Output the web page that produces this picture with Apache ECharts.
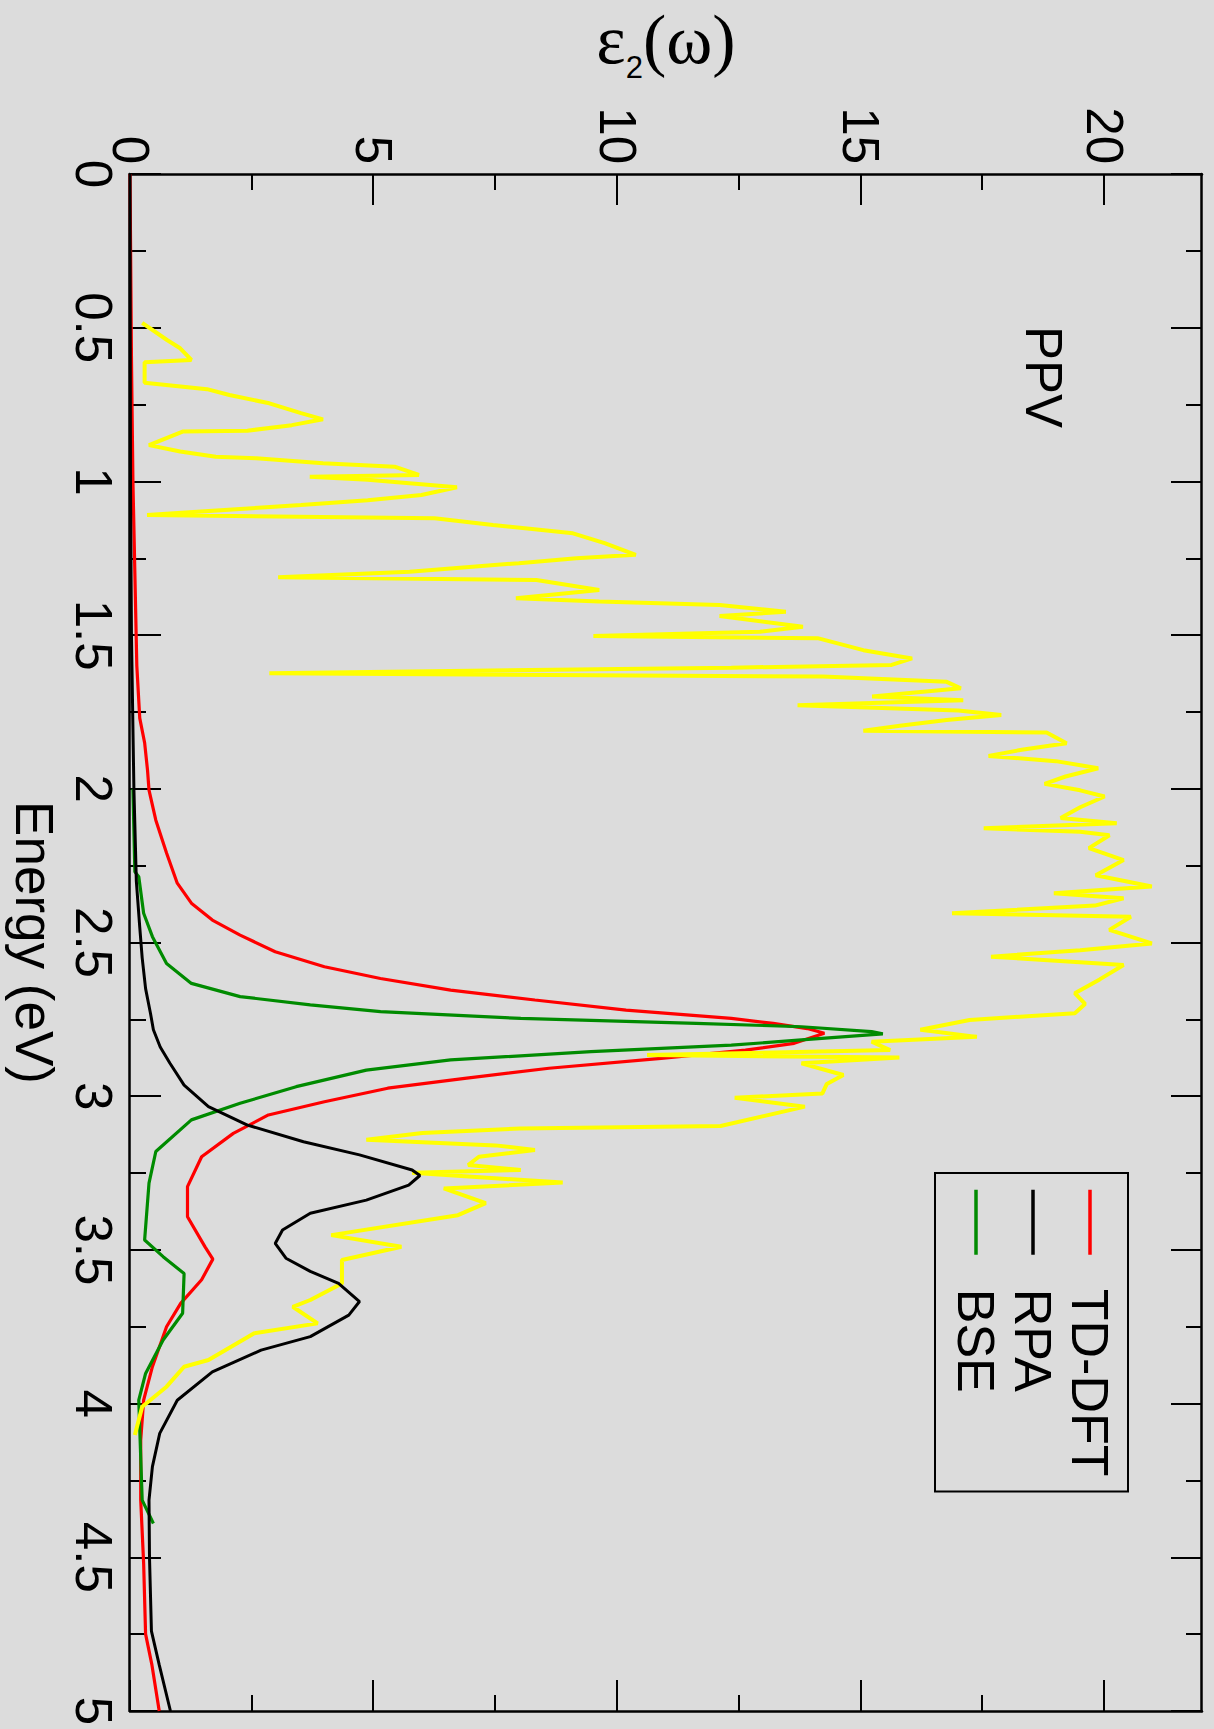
<!DOCTYPE html>
<html>
<head>
<meta charset="utf-8">
<title>PPV dielectric function</title>
<script src="https://cdn.jsdelivr.net/npm/echarts@6/dist/echarts.min.js"></script>
<style>
  html, body { margin: 0; padding: 0; width: 1214px; height: 1729px; background: #dcdcdc; overflow: hidden; }
  /* The plot is laid out landscape and turned a quarter turn clockwise onto the page */
  #plot {
    position: absolute; left: 0; top: 0;
    width: 1729px; height: 1214px;
    transform-origin: 0 0;
    transform: translate(1214px, 0) rotate(90deg);
  }
</style>
</head>
<body>
<div id="plot"></div>
<script>
// Imaginary part of the dielectric function, energies in eV
const tdE   = [0, 0.6, 1.0, 1.3, 1.6, 1.77, 1.85, 1.94, 2.004, 2.102, 2.209, 2.307, 2.372, 2.427, 2.476, 2.530, 2.579, 2.617, 2.655, 2.687, 2.720, 2.747, 2.763, 2.780, 2.795, 2.828, 2.850, 2.877, 2.909, 2.942, 2.974, 3.018, 3.061, 3.121, 3.197, 3.294, 3.392, 3.490, 3.530, 3.597, 3.674, 3.750, 3.880, 3.989, 4.119, 4.314, 4.52, 4.75, 4.85, 4.95, 5.0];
const tdEps = [0, 0.03, 0.06, 0.10, 0.14, 0.20, 0.30, 0.36, 0.39, 0.53, 0.75, 0.97, 1.26, 1.69, 2.26, 2.98, 3.99, 5.14, 6.58, 8.31, 10.18, 12.34, 13.2, 13.9, 14.25, 13.63, 12.63, 10.9, 8.6, 6.87, 5.29, 3.99, 2.84, 2.12, 1.47, 1.18, 1.18, 1.54, 1.70, 1.47, 1.04, 0.75, 0.46, 0.28, 0.22, 0.22, 0.28, 0.32, 0.45, 0.55, 0.60];

const rpaE   = [0, 1.0, 1.5, 2.0, 2.3, 2.45, 2.55, 2.65, 2.73, 2.784, 2.84, 2.893, 2.964, 3.034, 3.094, 3.148, 3.191, 3.240, 3.258, 3.289, 3.338, 3.381, 3.435, 3.479, 3.527, 3.570, 3.609, 3.668, 3.712, 3.782, 3.826, 3.897, 3.989, 4.097, 4.205, 4.314, 4.50, 4.74, 4.85, 5.0];
const rpaEps = [0, 0.01, 0.03, 0.08, 0.13, 0.20, 0.25, 0.32, 0.42, 0.48, 0.62, 0.82, 1.11, 1.61, 2.41, 3.56, 4.71, 5.79, 5.95, 5.72, 4.85, 3.70, 3.13, 2.98, 3.20, 3.70, 4.28, 4.71, 4.49, 3.70, 2.69, 1.69, 0.97, 0.61, 0.46, 0.39, 0.40, 0.44, 0.60, 0.83];

const bseE   = [2.0, 2.27, 2.286, 2.405, 2.481, 2.568, 2.633, 2.676, 2.703, 2.725, 2.747, 2.763, 2.774, 2.790, 2.797, 2.817, 2.834, 2.855, 2.882, 2.915, 2.969, 3.023, 3.077, 3.180, 3.283, 3.468, 3.522, 3.577, 3.706, 3.793, 3.902, 3.989, 4.314, 4.39];
const bseEps = [0.06, 0.10, 0.18, 0.28, 0.46, 0.75, 1.26, 2.26, 3.70, 5.14, 8.02, 11.62, 13.78, 15.22, 15.45, 13.78, 12.34, 9.46, 6.58, 4.85, 3.41, 2.26, 1.26, 0.53, 0.39, 0.30, 0.68, 1.11, 1.08, 0.68, 0.32, 0.18, 0.25, 0.48];

const ppvE   = [0.484, 0.540, 0.567, 0.605, 0.612, 0.679, 0.700, 0.719, 0.746, 0.778, 0.798, 0.817, 0.835, 0.838, 0.882, 0.903, 0.920, 0.925, 0.941, 0.952, 0.979, 0.985, 0.995, 1.019, 1.044, 1.061, 1.077, 1.109, 1.120, 1.142, 1.169, 1.201, 1.239, 1.250, 1.266, 1.294, 1.312, 1.321, 1.353, 1.380, 1.391, 1.402, 1.424, 1.438, 1.473, 1.489, 1.503, 1.510, 1.549, 1.576, 1.597, 1.606, 1.624, 1.635, 1.652, 1.673, 1.700, 1.712, 1.728, 1.745, 1.760, 1.776, 1.795, 1.811, 1.817, 1.852, 1.873, 1.893, 1.910, 1.933, 1.960, 1.984, 2.005, 2.025, 2.060, 2.095, 2.112, 2.128, 2.140, 2.151, 2.193, 2.232, 2.281, 2.318, 2.340, 2.356, 2.380, 2.405, 2.416, 2.459, 2.503, 2.525, 2.546, 2.573, 2.620, 2.665, 2.700, 2.730, 2.752, 2.784, 2.807, 2.823, 2.850, 2.866, 2.874, 2.893, 2.931, 2.960, 2.991, 3.005, 3.034, 3.097, 3.105, 3.120, 3.142, 3.160, 3.175, 3.197, 3.224, 3.240, 3.249, 3.281, 3.300, 3.348, 3.387, 3.452, 3.490, 3.533, 3.609, 3.663, 3.685, 3.739, 3.771, 3.858, 3.880, 3.945, 4.010, 4.102];
const ppvEps = [0.25, 0.76, 1.03, 1.26, 0.30, 0.30, 1.58, 2.04, 2.86, 3.51, 3.96, 3.32, 2.41, 1.08, 0.39, 1.03, 1.76, 2.59, 3.96, 5.43, 5.93, 3.69, 4.88, 6.71, 5.98, 4.88, 3.51, 0.35, 6.25, 7.45, 9.09, 9.74, 10.38, 9.16, 7.98, 5.74, 3.04, 8.34, 9.63, 7.92, 9.63, 12.1, 13.46, 12.1, 13.81, 12.93, 9.51, 14.11, 15.05, 16.05, 15.63, 12.34, 2.86, 14.22, 16.76, 17.05, 15.23, 17.1, 13.7, 17.0, 17.88, 16.76, 15.8, 15.05, 18.81, 19.22, 18.3, 17.62, 19.0, 19.87, 19.2, 18.77, 19.5, 20.0, 19.5, 19.1, 20.25, 17.52, 19.5, 20.1, 19.68, 20.39, 19.82, 20.97, 18.96, 20.39, 19.8, 16.87, 20.54, 20.1, 20.97, 19.5, 17.67, 20.39, 19.9, 19.39, 19.6, 19.39, 17.23, 16.22, 17.38, 15.22, 15.6, 10.61, 15.79, 13.78, 14.64, 14.3, 14.21, 12.41, 13.85, 12.12, 8.0, 6.0, 4.85, 7.5, 8.31, 7.16, 6.94, 8.02, 5.79, 8.88, 6.44, 7.30, 6.73, 4.13, 5.57, 4.35, 4.35, 3.70, 3.34, 3.85, 2.55, 1.61, 1.11, 0.75, 0.25, 0.10];

// Tick positions of the ε2 axis
const epsMajorTicks = [0, 5, 10, 15, 20];
const epsMinorTicks = [2.5, 7.5, 12.5, 17.5];

const zip = (xs, ys) => xs.map((x, i) => [x, ys[i]]);

const FONT = 'Liberation Sans, Arial, Helvetica, sans-serif';
const SERIF = 'Liberation Serif, Times New Roman, serif';
const frameLine = { show: true, onZero: false, lineStyle: { color: '#000', width: 2.5 } };
const tickStyle = { color: '#000', width: 2 };
const tickLabel = { fontSize: 51, color: '#000', fontFamily: FONT };

function energyAxis(position, withLabels) {
  return {
    type: 'value', min: 0, max: 5, interval: 0.5, position: position,
    axisLine: frameLine,
    axisTick: { show: true, inside: true, length: 31, lineStyle: tickStyle },
    minorTick: { show: true, splitNumber: 2, length: 16, lineStyle: tickStyle },
    axisLabel: Object.assign({ show: withLabels, margin: 11, showMinLabel: true, showMaxLabel: true }, tickLabel),
    splitLine: { show: false }, minorSplitLine: { show: false },
    name: withLabels ? 'Energy (eV)' : '',
    nameLocation: 'middle', nameGap: 69,
    nameTextStyle: { fontSize: 53, color: '#000', fontFamily: FONT }
  };
}

function epsAxis(position, withLabels, minor) {
  return {
    type: 'value', min: 0, max: 22, position: position,
    axisLine: minor ? { show: false, onZero: false } : frameLine,
    axisTick: minor
      ? { show: true, inside: true, length: 16, lineStyle: tickStyle, customValues: epsMinorTicks }
      : { show: true, inside: true, length: 31, lineStyle: tickStyle, customValues: epsMajorTicks },
    axisLabel: Object.assign({ show: withLabels, margin: 10, customValues: epsMajorTicks }, tickLabel),
    splitLine: { show: false }
  };
}

const leftEps = epsAxis('left', true, false);
leftEps.name = '{e|ε}{s|2}{e|(ω)}';
leftEps.nameLocation = 'middle';
leftEps.nameRotate = 90;
leftEps.nameGap = 100;
leftEps.nameTextStyle = {
  color: '#000',
  rich: {
    e: { fontFamily: SERIF, fontSize: 70, lineHeight: 70, verticalAlign: 'top', color: '#000' },
    s: { fontFamily: FONT, fontSize: 31, lineHeight: 31, verticalAlign: 'top', padding: [48, 0, 0, 0], color: '#000' }
  }
};

function lineSeries(name, data, color, width, z) {
  return {
    name: name, type: 'line', data: data, symbol: 'none', smooth: false,
    xAxisIndex: 0, yAxisIndex: 0, z: z,
    lineStyle: { color: color, width: width },
    itemStyle: { color: color },
    emphasis: { disabled: true },
    animation: false
  };
}

const chart = echarts.init(document.getElementById('plot'), null, { renderer: 'svg', width: 1729, height: 1214 });
chart.setOption({
  backgroundColor: '#dcdcdc',
  animation: false,
  grid: { left: 174, right: 18, top: 12, bottom: 130, containLabel: false, outerBoundsMode: 'none' },
  xAxis: [energyAxis('bottom', true), energyAxis('top', false)],
  yAxis: [leftEps, epsAxis('right', false, false), epsAxis('left', false, true), epsAxis('right', false, true)],
  legend: {
    data: ['TD-DFT', 'RPA', 'BSE'],
    orient: 'vertical', left: 1173, top: 86,
    padding: [12, 15, 15, 15], itemGap: 5,
    itemWidth: 65, itemHeight: 2,
    borderColor: '#000', borderWidth: 2, borderRadius: 0,
    selectedMode: false,
    lineStyle: { width: 3.5 },
    textStyle: { fontSize: 52, lineHeight: 50, color: '#000', fontFamily: FONT, padding: [0, 0, 0, 29] }
  },
  graphic: [{
    type: 'text', x: 377, y: 171, silent: true,
    style: { text: 'PPV', fontSize: 51, fontFamily: FONT, fill: '#000',
             align: 'center', verticalAlign: 'middle', textAlign: 'center', textVerticalAlign: 'middle' }
  }],
  series: [
    lineSeries('TD-DFT', zip(tdE, tdEps), '#ff0000', 3.2, 2),
    lineSeries('BSE', zip(bseE, bseEps), '#008b00', 3.2, 3),
    lineSeries('PPV', zip(ppvE, ppvEps), '#ffff00', 4, 4),
    lineSeries('RPA', zip(rpaE, rpaEps), '#000000', 3, 5)
  ]
});
</script>
</body>
</html>
